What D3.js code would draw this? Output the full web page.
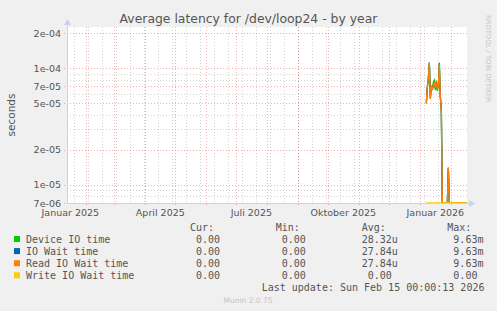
<!DOCTYPE html>
<html>
<head>
<meta charset="utf-8">
<script src="https://d3js.org/d3.v7.min.js"></script>
<style>
  body { margin: 0; background: #f0f0f0; }
  text { white-space: pre; }
</style>
</head>
<body>
<script>
    const [width, height] = [497, 311]

    // daily samples, Jan 7 2026 .. Feb 16 2026 (nothing recorded before)
    const days = d3.timeDay.range(new Date(2026, 0, 7), new Date(2026, 1, 17));
    const deviceIO = [5.2e-5, 6.8e-5, 8.2e-5, 1.1e-4, 5.7e-5, 7.1e-5, 6.6e-5, 7.6e-5, 7.9e-5, 6.5e-5,
                      7.8e-5, 6.4e-5, 7.2e-5, 1.12e-4, 5.6e-5, 4.6e-5, 0, 0, 0, 0,
                      0, 0, 1.4e-5, 0, 0, 0, 0, 0, 0, 0,
                      0, 0, 0, 0, 0, 0, 0, 0, 0, 0, 0];
    const ioWait = [5e-5, 7e-5, 8e-5, 1.12e-4, 5.5e-5, 7e-5, 6.5e-5, 7.2e-5, 7.5e-5, 6.8e-5,
                    7.6e-5, 6.6e-5, 7e-5, 1.08e-4, 5.8e-5, 4.2e-5, 0, 0, 0, 0,
                    0, 0, 1.4e-5, 0, 0, 0, 0, 0, 0, 0,
                    0, 0, 0, 0, 0, 0, 0, 0, 0, 0, 0];
    const readWait = ioWait.slice();
    const writeWait = days.map(() => 0);

    const seriesNames = ["Device IO time", "IO Wait time", "Read IO Wait time", "Write IO Wait time"];
    const seriesColors = ["#00cc00", "#0066b3", "#ff8000", "#ffcc00"];
    const seriesValues = [deviceIO, ioWait, readWait, writeWait];
    const curVals = ["0.00", "0.00", "0.00", "0.00"];
    const minVals = ["0.00", "0.00", "0.00", "0.00"];
    const avgVals = ["28.32u", "27.84u", "27.84u", "0.00 "];
    const maxVals = ["9.63m", "9.63m", "9.63m", "0.00 "];

    const yMajor = [7e-6, 1e-5, 2e-5, 5e-5, 7e-5, 1e-4, 2e-4];
    const yMajorLabels = ["7e-06", "1e-05", "2e-05", "5e-05", "7e-05", "1e-04", "2e-04"];
    const yMinor = [8e-6, 9e-6, 3e-5, 4e-5, 6e-5, 8e-5, 9e-5];
    const xLabelNames = ["Januar 2025", "April 2025", "Juli 2025", "Oktober 2025", "Januar 2026"];
    const xLabelDates = [new Date(2025, 0, 16), new Date(2025, 3, 16), new Date(2025, 6, 16),
                         new Date(2025, 9, 16), new Date(2026, 0, 16)];

    const plot = {left: 67, right: 467, top: 27, bottom: 203};

    const x = d3.scaleTime()
        .domain([new Date(2025, 0, 12, 16), new Date(2026, 1, 16, 16)])
        .range([plot.left, plot.right]);
    const y = d3.scaleLog()
        .domain([7e-6, 2.26e-4])
        .range([plot.bottom, plot.top])
        .clamp(true);

    const svg = d3.select("body").append("svg")
        .attr("width", width)
        .attr("height", height)
        .style("display", "block");

    svg.append("rect").attr("width", width).attr("height", height).attr("fill", "#f0f0f0");
    svg.append("rect")
        .attr("x", plot.left).attr("y", plot.top)
        .attr("width", plot.right - plot.left).attr("height", plot.bottom - plot.top)
        .attr("fill", "#fff");

    // grid
    const minorColor = "rgba(120,120,120,0.32)";
    const majorColor = "rgba(225,70,70,0.42)";
    const xMinor = d3.range(0, 28).map(k => d3.timeDay.offset(new Date(2026, 0, 19), -14 * k))
        .filter(d => x(d) > plot.left && x(d) < plot.right);
    const xMajor = d3.timeMonth.range(new Date(2025, 1, 1), new Date(2026, 1, 2));

    svg.selectAll(".xminor").data(xMinor).enter().append("line")
        .attr("x1", d => Math.round(x(d)) + 0.5).attr("x2", d => Math.round(x(d)) + 0.5)
        .attr("y1", plot.top).attr("y2", plot.bottom)
        .attr("stroke", minorColor).attr("stroke-dasharray", "1,2");
    svg.selectAll(".yminor").data(yMinor).enter().append("line")
        .attr("x1", plot.left).attr("x2", plot.right)
        .attr("y1", d => Math.round(y(d)) + 0.5).attr("y2", d => Math.round(y(d)) + 0.5)
        .attr("stroke", minorColor).attr("stroke-dasharray", "1,2");
    svg.selectAll(".xmajor").data(xMajor).enter().append("line")
        .attr("x1", d => Math.round(x(d)) + 0.5).attr("x2", d => Math.round(x(d)) + 0.5)
        .attr("y1", plot.top).attr("y2", plot.bottom + 3)
        .attr("stroke", majorColor).attr("stroke-dasharray", "1,2");
    svg.selectAll(".ymajor").data(yMajor).enter().append("line")
        .attr("x1", plot.left - 3).attr("x2", plot.right)
        .attr("y1", d => Math.round(y(d)) + 0.5).attr("y2", d => Math.round(y(d)) + 0.5)
        .attr("stroke", majorColor).attr("stroke-dasharray", "1,2");

    // series lines
    const line = d3.line()
        .x((d, i) => x(days[i]))
        .y(d => y(Math.max(d, 1e-9)));
    seriesValues.forEach((vals, k) => {
        svg.append("path")
            .datum(vals)
            .attr("d", line)
            .attr("fill", "none")
            .attr("stroke", seriesColors[k])
            .attr("stroke-width", 1.3);
    });

    // axes
    const axisColor = "#c8d0f8";
    svg.append("line").attr("x1", plot.left + 0.5).attr("x2", plot.left + 0.5)
        .attr("y1", plot.bottom).attr("y2", 24).attr("stroke", axisColor);
    svg.append("line").attr("x1", plot.left).attr("x2", 470)
        .attr("y1", plot.bottom + 0.5).attr("y2", plot.bottom + 0.5).attr("stroke", axisColor);
    svg.append("path").attr("d", `M${plot.left - 3},25 L${plot.left + 4},25 L${plot.left + 0.5},19 Z`).attr("fill", axisColor);
    svg.append("path").attr("d", `M469,${plot.bottom - 3} L469,${plot.bottom + 4} L475,${plot.bottom + 0.5} Z`).attr("fill", axisColor);

    const sans = "DejaVu Sans";
    const mono = "DejaVu Sans Mono";

    svg.selectAll(".ylab").data(yMajor).enter().append("text")
        .attr("x", 61).attr("y", d => y(d) + 3.5)
        .attr("text-anchor", "end")
        .style("font-family", sans).style("font-size", "9.5px").attr("fill", "#555")
        .text((d, i) => yMajorLabels[i]);
    svg.selectAll(".xlab").data(xLabelDates).enter().append("text")
        .attr("x", d => x(d)).attr("y", 216)
        .attr("text-anchor", "middle")
        .style("font-family", sans).style("font-size", "9.5px").attr("fill", "#555")
        .text((d, i) => xLabelNames[i]);

    svg.append("text")
        .attr("x", 248.5).attr("y", 23)
        .attr("text-anchor", "middle")
        .style("font-family", sans).style("font-size", "12.4px").attr("fill", "#555")
        .text("Average latency for /dev/loop24 - by year");

    svg.append("text")
        .attr("transform", "translate(15,115) rotate(-90)")
        .attr("text-anchor", "middle")
        .style("font-family", sans).style("font-size", "10.5px").attr("fill", "#555")
        .text("seconds");

    svg.append("text")
        .attr("transform", "translate(486,15) rotate(90)")
        .style("font-family", sans).style("font-size", "6.8px").attr("fill", "#c4c4c4")
        .text("RRDTOOL / TOBI OETIKER");

    // legend
    const colStart = [184, 269.7, 355.7, 441.3];
    ["Cur:", "Min:", "Avg:", "Max:"].forEach((h, j) => {
        svg.append("text").attr("x", colStart[j] + 6).attr("y", 231)
            .style("font-family", mono).style("font-size", "10px").attr("fill", "#555")
            .text(h);
    });
    const pad = s => s.padStart(7, " ");
    seriesNames.forEach((name, i) => {
        const yy = 243 + i * 12.1;
        svg.append("rect").attr("x", 14).attr("y", yy - 7).attr("width", 6).attr("height", 6)
            .attr("fill", seriesColors[i]);
        svg.append("text").attr("x", 26).attr("y", yy)
            .style("font-family", mono).style("font-size", "10px").attr("fill", "#555")
            .text(name);
        [curVals[i] + " ", minVals[i] + " ", avgVals[i], maxVals[i]].forEach((v, j) => {
            svg.append("text").attr("x", colStart[j]).attr("y", yy)
                .style("font-family", mono).style("font-size", "10px").attr("fill", "#555")
                .text(pad(v));
        });
    });

    svg.append("text").attr("x", 261.7).attr("y", 291)
        .style("font-family", mono).style("font-size", "10px").attr("fill", "#555")
        .text("Last update: Sun Feb 15 00:00:13 2026");

    svg.append("text").attr("x", 248).attr("y", 303)
        .attr("text-anchor", "middle")
        .style("font-family", sans).style("font-size", "7.5px").attr("fill", "#c4c4c4")
        .text("Munin 2.0.75");
</script>
</body>
</html>
